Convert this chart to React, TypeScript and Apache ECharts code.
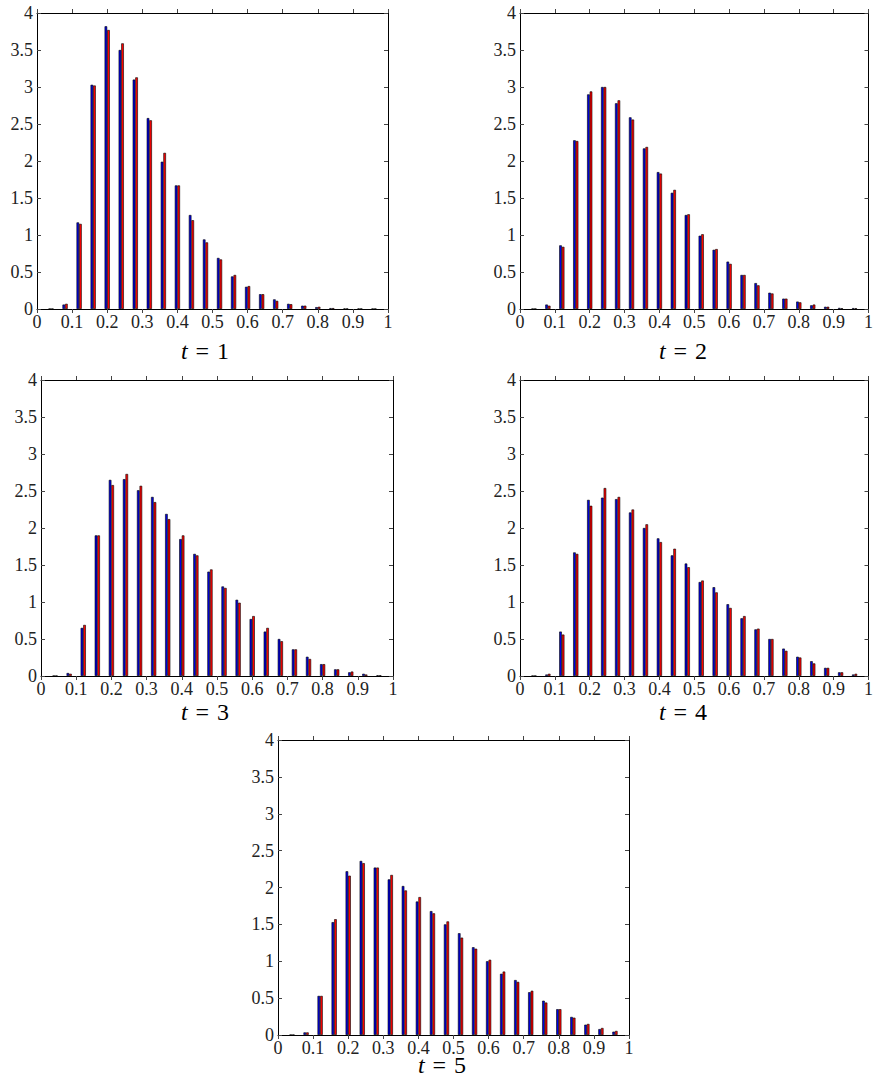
import React, { useEffect, useRef } from "react";
import * as echarts from "echarts";

const BIN_CENTERS = [0.04, 0.08, 0.12, 0.16, 0.2, 0.24, 0.28, 0.32, 0.36, 0.4, 0.44, 0.48, 0.52, 0.56, 0.6, 0.64, 0.68, 0.72, 0.76, 0.8, 0.84, 0.88, 0.92, 0.96];

const T1_BLUE = [0.004, 0.06, 1.17, 3.03, 3.82, 3.5, 3.1, 2.58, 1.99, 1.67, 1.27, 0.94, 0.69, 0.44, 0.3, 0.2, 0.13, 0.07, 0.045, 0.025, 0.012, 0.008, 0.007, 0.005];
const T1_RED = [0.004, 0.07, 1.15, 3.02, 3.77, 3.59, 3.13, 2.55, 2.11, 1.67, 1.2, 0.9, 0.67, 0.46, 0.31, 0.2, 0.11, 0.065, 0.045, 0.03, 0.012, 0.008, 0.006, 0.005];

const T2_BLUE = [0.004, 0.06, 0.86, 2.28, 2.9, 3.0, 2.78, 2.59, 2.17, 1.85, 1.57, 1.27, 0.99, 0.8, 0.64, 0.46, 0.35, 0.22, 0.14, 0.1, 0.05, 0.03, 0.015, 0.012];
const T2_RED = [0.004, 0.045, 0.84, 2.27, 2.94, 3.0, 2.82, 2.56, 2.19, 1.83, 1.61, 1.28, 1.01, 0.81, 0.61, 0.46, 0.32, 0.21, 0.14, 0.09, 0.06, 0.03, 0.01, 0.01];

const T3_BLUE = [0.004, 0.04, 0.65, 1.9, 2.65, 2.66, 2.51, 2.42, 2.19, 1.85, 1.65, 1.41, 1.21, 1.03, 0.77, 0.6, 0.5, 0.36, 0.26, 0.16, 0.09, 0.05, 0.03, 0.01];
const T3_RED = [0.004, 0.03, 0.69, 1.9, 2.58, 2.73, 2.57, 2.35, 2.12, 1.9, 1.63, 1.44, 1.19, 0.99, 0.81, 0.65, 0.47, 0.36, 0.23, 0.16, 0.09, 0.06, 0.02, 0.01];

const T4_BLUE = [0.004, 0.02, 0.6, 1.67, 2.38, 2.41, 2.39, 2.21, 2.0, 1.86, 1.63, 1.52, 1.27, 1.2, 0.97, 0.78, 0.63, 0.5, 0.37, 0.26, 0.2, 0.11, 0.05, 0.02];
const T4_RED = [0.004, 0.03, 0.56, 1.65, 2.3, 2.54, 2.42, 2.25, 2.05, 1.81, 1.72, 1.47, 1.29, 1.13, 0.92, 0.81, 0.64, 0.5, 0.34, 0.25, 0.17, 0.11, 0.05, 0.03];

const T5_BLUE = [0.004, 0.035, 0.53, 1.53, 2.22, 2.36, 2.27, 2.11, 2.02, 1.81, 1.68, 1.5, 1.38, 1.19, 1.0, 0.83, 0.745, 0.58, 0.465, 0.35, 0.245, 0.14, 0.08, 0.045];
const T5_RED = [0.004, 0.035, 0.53, 1.57, 2.16, 2.33, 2.27, 2.17, 1.96, 1.87, 1.65, 1.54, 1.32, 1.17, 1.02, 0.86, 0.72, 0.6, 0.44, 0.35, 0.235, 0.15, 0.095, 0.055];

const PANEL_LABELS = ["1", "2", "3", "4", "5"];
const PANEL_BLUE = [T1_BLUE, T2_BLUE, T3_BLUE, T4_BLUE, T5_BLUE];
const PANEL_RED = [T1_RED, T2_RED, T3_RED, T4_RED, T5_RED];

// layout (px)
const GRIDS = [
  { left: 37, top: 13, width: 351, height: 296, tx: 205, ty: 351 },
  { left: 520, top: 13, width: 350, height: 296, tx: 683, ty: 351 },
  { left: 41, top: 380, width: 352, height: 296, tx: 205, ty: 712 },
  { left: 520, top: 380, width: 350, height: 296, tx: 683, ty: 712 },
  { left: 278, top: 740, width: 351, height: 295, tx: 442, ty: 1065 },
];

const FONT = "'Liberation Serif', 'Times New Roman', serif";
const TICK_SIZE = 18;
const TITLE_SIZE = 24;

export default function App() {
  const ref = useRef<HTMLDivElement>(null);
  useEffect(() => {
    if (!ref.current) return;
    const chart = echarts.init(ref.current, null, { renderer: "svg" });
    const grid: any[] = [];
    const xAxis: any[] = [];
    const yAxis: any[] = [];
    const series: any[] = [];
    const graphic: any[] = [];
    const lineStyle = { color: "#000", width: 1 };
    GRIDS.forEach((g, i) => {
      grid.push({ left: g.left, top: g.top, width: g.width, height: g.height, containLabel: false });
      const xBase = {
        type: "value",
        gridIndex: i,
        min: 0,
        max: 1,
        interval: 0.1,
        splitLine: { show: false },
        axisLine: { show: true, onZero: false, lineStyle },
        axisTick: { show: true, inside: false, length: 4, lineStyle: { color: "#444", width: 1 } },
      };
      xAxis.push({
        ...xBase,
        position: "bottom",
        axisLabel: {
          show: true,
          margin: 4,
          fontFamily: FONT,
          fontSize: TICK_SIZE,
          lineHeight: 18,
          color: "#222",
          formatter: (v: number) => (v === 0 ? "0" : v === 1 ? "1" : v.toFixed(1)),
        },
      });
      xAxis.push({ ...xBase, position: "top", axisLabel: { show: false } });
      const yBase = {
        type: "value",
        gridIndex: i,
        min: 0,
        max: 4,
        interval: 0.5,
        splitLine: { show: false },
        axisLine: { show: true, onZero: false, lineStyle },
        axisTick: { show: true, inside: true, length: 4, lineStyle: { color: "#444", width: 1 } },
      };
      yAxis.push({
        ...yBase,
        position: "left",
        axisLabel: { show: true, margin: 4, fontFamily: FONT, fontSize: TICK_SIZE, color: "#222" },
      });
      yAxis.push({ ...yBase, position: "right", axisLabel: { show: false } });

      const common = {
        type: "bar",
        xAxisIndex: 2 * i,
        yAxisIndex: 2 * i,
        barWidth: 2.6,
        barGap: "0%",
        silent: true,
      };
      series.push({
        ...common,
        name: "blue" + i,
        itemStyle: { color: "#0000e0", borderColor: "#000", borderWidth: 0.6 },
        data: BIN_CENTERS.map((x, j) => [x, PANEL_BLUE[i][j]]),
      });
      series.push({
        ...common,
        name: "red" + i,
        itemStyle: { color: "#ff0000", borderColor: "#000", borderWidth: 0.6 },
        data: BIN_CENTERS.map((x, j) => [x, PANEL_RED[i][j]]),
      });
      graphic.push({
        type: "text",
        x: g.tx,
        y: g.ty,
        style: {
          text: "{i|t}{e|=}{n|" + PANEL_LABELS[i] + "}",
          align: "center",
          verticalAlign: "middle",
          fill: "#000",
          rich: {
            i: { fontFamily: FONT, fontStyle: "italic", fontSize: TITLE_SIZE, lineHeight: 18, color: "#000" },
            e: { fontFamily: FONT, fontSize: TITLE_SIZE, lineHeight: 18, color: "#000", padding: [0, 8, 0, 8] },
            n: { fontFamily: FONT, fontSize: TITLE_SIZE, lineHeight: 18, color: "#000" },
          },
        },
      });
    });
    chart.setOption({
      animation: false,
      backgroundColor: "#fff",
      grid,
      xAxis,
      yAxis,
      series,
      graphic,
    });
    return () => chart.dispose();
  }, []);
  return (
    <div
      ref={ref}
      style={{ position: "absolute", left: 0, top: 0, width: 876, height: 1080, background: "#fff" }}
    />
  );
}
